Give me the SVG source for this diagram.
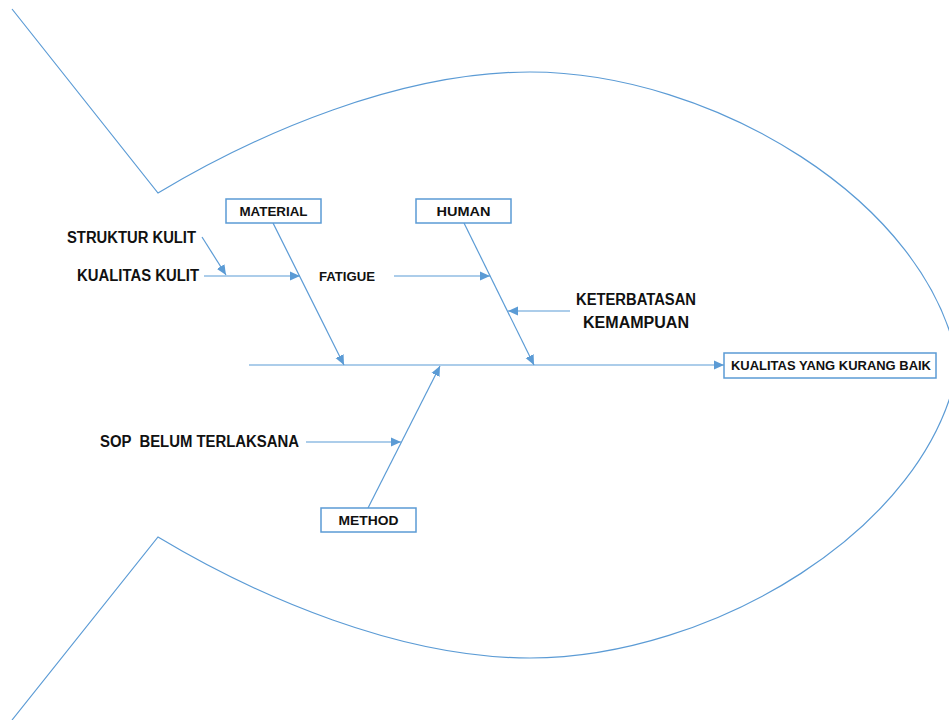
<svg xmlns="http://www.w3.org/2000/svg" width="949" height="720" viewBox="0 0 949 720">
<style>
.ln{stroke:#5B9BD5;stroke-width:1.2;fill:none}
.box{stroke:#5B9BD5;stroke-width:1.5;fill:#fff}
.t{font-family:"Liberation Sans",Arial,sans-serif;font-weight:bold;fill:#111}
.big{font-size:16px}
.sm{font-size:13px}
</style>
<defs>
<marker id="ah" markerUnits="userSpaceOnUse" markerWidth="10" markerHeight="10" viewBox="0 0 10 10" refX="10" refY="5" orient="auto">
<path d="M0,0.5 L10,5 L0,9.5 Z" fill="#5B9BD5"/>
</marker>
</defs>
<g id="fish">
<path class="ln" d="M12,9 L158,193 C258,133 400,72 530,72 C710,72 930,200 958,365"/>
<path class="ln" d="M12,720 L158,537 C258,597 400,658 530,658 C710,658 930,530 958,365"/>
</g>
<g id="connectors">
<line class="ln" x1="249" y1="365" x2="724" y2="365" marker-end="url(#ah)"/>
<line class="ln" x1="273" y1="223" x2="344" y2="365" marker-end="url(#ah)"/>
<line class="ln" x1="464" y1="223" x2="534" y2="365" marker-end="url(#ah)"/>
<line class="ln" x1="368" y1="508" x2="440" y2="366" marker-end="url(#ah)"/>
<line class="ln" x1="204" y1="276" x2="300" y2="276" marker-end="url(#ah)"/>
<line class="ln" x1="202" y1="237" x2="226" y2="275" marker-end="url(#ah)"/>
<line class="ln" x1="394" y1="276" x2="490" y2="276" marker-end="url(#ah)"/>
<line class="ln" x1="570" y1="311" x2="508" y2="311" marker-end="url(#ah)"/>
<line class="ln" x1="306" y1="442" x2="401" y2="442" marker-end="url(#ah)"/>
</g>
<g id="material">
<rect class="box" x="226" y="199" width="95" height="24"/>
<text class="t sm" x="273.5" y="216" text-anchor="middle" textLength="68" lengthAdjust="spacingAndGlyphs">MATERIAL</text>
</g>
<g id="human">
<rect class="box" x="416" y="199" width="95" height="24"/>
<text class="t sm" x="463.5" y="216" text-anchor="middle" textLength="54" lengthAdjust="spacingAndGlyphs">HUMAN</text>
</g>
<g id="method">
<rect class="box" x="321" y="508" width="95" height="24"/>
<text class="t sm" x="368.5" y="525" text-anchor="middle" textLength="60" lengthAdjust="spacingAndGlyphs">METHOD</text>
</g>
<g id="effect">
<rect class="box" x="724" y="353" width="212" height="25"/>
<text class="t sm" x="731" y="370" textLength="200" lengthAdjust="spacingAndGlyphs">KUALITAS YANG KURANG BAIK</text>
</g>
<g id="struktur-kulit">
<text class="t big" x="67" y="243" textLength="129" lengthAdjust="spacingAndGlyphs">STRUKTUR KULIT</text>
</g>
<g id="kualitas-kulit">
<text class="t big" x="77" y="281" textLength="122" lengthAdjust="spacingAndGlyphs">KUALITAS KULIT</text>
</g>
<g id="fatigue">
<text class="t sm" x="319" y="281" textLength="56" lengthAdjust="spacingAndGlyphs">FATIGUE</text>
</g>
<g id="keterbatasan">
<text class="t big" x="636" y="305" text-anchor="middle" textLength="120" lengthAdjust="spacingAndGlyphs">KETERBATASAN</text>
<text class="t big" x="636" y="328" text-anchor="middle" textLength="106" lengthAdjust="spacingAndGlyphs">KEMAMPUAN</text>
</g>
<g id="sop">
<text class="t big" x="100" y="447" textLength="199" lengthAdjust="spacingAndGlyphs" xml:space="preserve">SOP  BELUM TERLAKSANA</text>
</g>
</svg>
